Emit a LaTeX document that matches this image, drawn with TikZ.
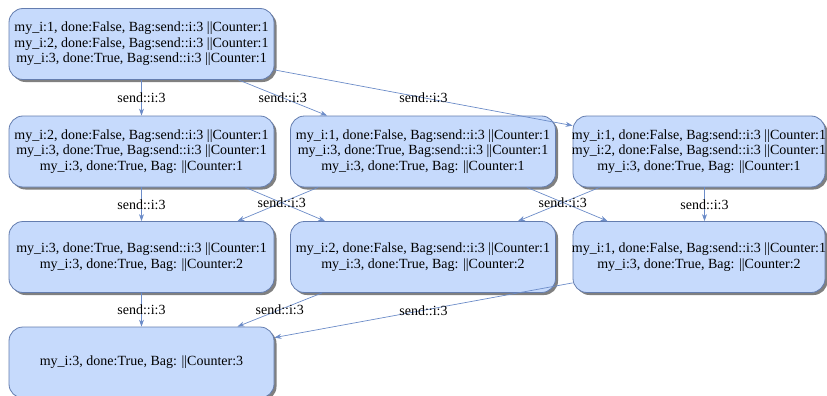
\documentclass[tikz,border=0pt]{standalone}
\usepackage{fontspec}
\setmainfont{Liberation Serif}
\usepackage{tikz}
\usetikzlibrary{arrows.meta, shadows}
\definecolor{nodefill}{RGB}{198,218,252}
\definecolor{nodeline}{RGB}{100,125,175}
\definecolor{edgeblue}{RGB}{108,140,200}

\begin{document}
\begin{tikzpicture}[x=1pt, y=-1pt,
    statebox/.style={draw=nodeline, fill=nodefill, line width=0.8pt, rounded corners=14pt,
      minimum width=265pt, minimum height=71pt, align=center, inner xsep=4pt,
      font=\fontsize{14}{15.5}\selectfont,
      drop shadow={shadow xshift=2.5pt, shadow yshift=-2.5pt, fill=black!50, opacity=1}},
    cutbox/.style={statebox, minimum width=252pt, inner xsep=-3pt},
    trans/.style={-{Stealth[length=7pt, width=5pt]}, edgeblue, line width=0.7pt},
    lbl/.style={font=\fontsize{14}{15.5}\selectfont, text=black, inner sep=0pt}]
    \useasboundingbox (0,0) rectangle (827,396);

    % Zustaende
    \node[statebox] (s0) at (141.5,44) {my\_i:1, done:False, Bag:send::i:3 ||Counter:1\\
      my\_i:2, done:False, Bag:send::i:3 ||Counter:1\\
      my\_i:3, done:True, Bag:send::i:3 ||Counter:1};

    \node[statebox] (s1) at (141.5,151.5) {my\_i:2, done:False, Bag:send::i:3 ||Counter:1\\
      my\_i:3, done:True, Bag:send::i:3 ||Counter:1\\
      my\_i:3, done:True, Bag: ||Counter:1};
    \node[statebox] (s2) at (423,151.5) {my\_i:1, done:False, Bag:send::i:3 ||Counter:1\\
      my\_i:3, done:True, Bag:send::i:3 ||Counter:1\\
      my\_i:3, done:True, Bag: ||Counter:1};
    \node[cutbox] (s3) at (699,151.5) {my\_i:1, done:False, Bag:send::i:3 ||Counter:1\\
      my\_i:2, done:False, Bag:send::i:3 ||Counter:1\\
      my\_i:3, done:True, Bag: ||Counter:1};

    \node[statebox] (s4) at (141.5,257) {my\_i:3, done:True, Bag:send::i:3 ||Counter:1\\
      my\_i:3, done:True, Bag: ||Counter:2};
    \node[statebox] (s5) at (423,257) {my\_i:2, done:False, Bag:send::i:3 ||Counter:1\\
      my\_i:3, done:True, Bag: ||Counter:2};
    \node[cutbox] (s6) at (699,257) {my\_i:1, done:False, Bag:send::i:3 ||Counter:1\\
      my\_i:3, done:True, Bag: ||Counter:2};

    \node[statebox] (s7) at (141.5,362.5) {my\_i:3, done:True, Bag: ||Counter:3};

    % Uebergaenge, erste Ebene
    \draw[trans] (s0) -- node[lbl] {send::i:3} (s1);
    \draw[trans] ([xshift=-36pt]s0.south east) -- node[lbl] {send::i:3} ([xshift=37pt]s2.north west);
    \draw[trans] ([yshift=10pt]s0.south east) -- node[lbl] {send::i:3} ([yshift=-10pt]s3.north west);

    % zweite Ebene (Kanten kreuzen sich, je eine Beschriftung am Kreuzungspunkt)
    \draw[trans] (s1) -- node[lbl] {send::i:3} (s4);
    \draw[trans] ([xshift=-29pt]s1.south east) -- ([xshift=35pt]s5.north west);
    \draw[trans] ([xshift=28pt]s2.south west) -- node[lbl, pos=.45] {send::i:3} ([xshift=-37pt]s4.north east);
    \draw[trans] ([xshift=-29pt]s2.south east) -- ([xshift=35pt]s6.north west);
    \draw[trans] ([xshift=27pt]s3.south west) -- node[lbl, pos=.45] {send::i:3} ([xshift=-38pt]s5.north east);
    \draw[trans] ([xshift=5.5pt]s3.south) -- node[lbl] {send::i:3} ([xshift=5.5pt]s6.north);

    % dritte Ebene
    \draw[trans] (s4) -- node[lbl] {send::i:3} (s7);
    \draw[trans] ([xshift=32pt]s5.south west) -- node[lbl] {send::i:3} ([xshift=-37pt]s7.north east);
    \draw[trans] ([yshift=10pt]s6.south west) -- node[lbl] {send::i:3} ([yshift=-11pt]s7.north east);
\end{tikzpicture}
\end{document}
